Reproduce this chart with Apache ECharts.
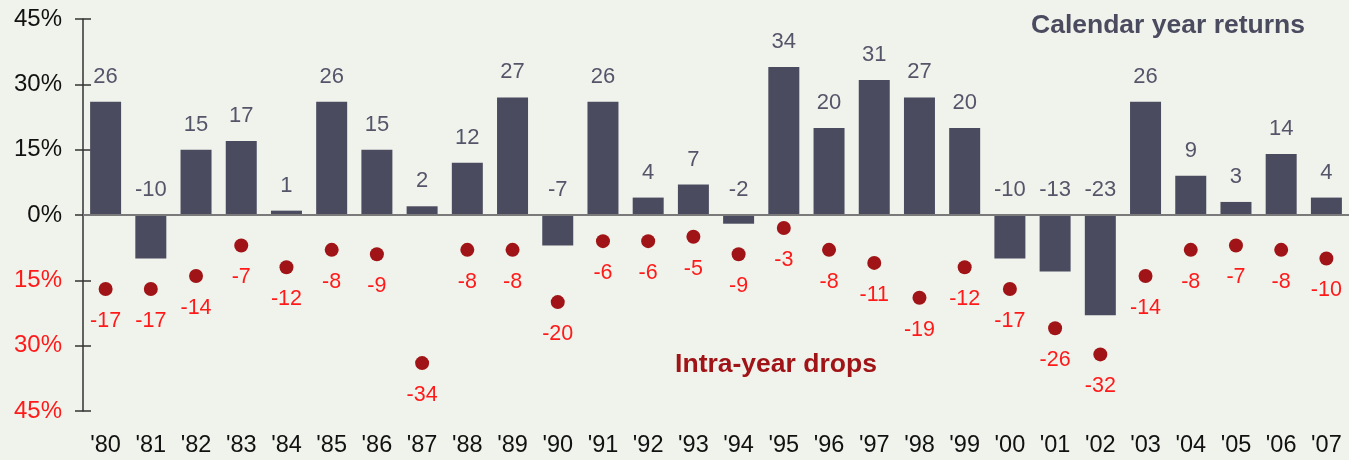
<!DOCTYPE html>
<html>
<head>
<meta charset="utf-8">
<script src="https://cdn.jsdelivr.net/npm/echarts@6/dist/echarts.min.js"></script>
<style>html,body{margin:0;padding:0;background:#f0f3ec;}#c{width:1349px;height:460px;}</style>
</head>
<body>
<div id="c"></div>
<script>
var years = ["'80","'81","'82","'83","'84","'85","'86","'87","'88","'89","'90","'91","'92","'93","'94","'95","'96","'97","'98","'99","'00","'01","'02","'03","'04","'05","'06","'07"];
var returns = [26,-10,15,17,1,26,15,2,12,27,-7,26,4,7,-2,34,20,31,27,20,-10,-13,-23,26,9,3,14,4];
var drops = [-17,-17,-14,-7,-12,-8,-9,-34,-8,-8,-20,-6,-6,-5,-9,-3,-8,-11,-19,-12,-17,-26,-32,-14,-8,-7,-8,-10];
var yTicks = [-45,-30,-15,0,15,30,45];

var font = 'Liberation Sans, Arial, sans-serif';
var chart = echarts.init(document.getElementById('c'));
chart.setOption({
  backgroundColor: '#f0f3ec',
  animation: false,
  grid: {left: 83, top: 19, width: 1274, bottom: 49, containLabel: false},
  title: [
    {text: 'Calendar year returns', left: 1163, top: 7, textAlign: 'center',
     textStyle: {fontFamily: font, fontSize: 26.5, fontWeight: 'bold', color: '#4b4b5f'}},
    {text: 'Intra-year drops', left: 771, top: 346, textAlign: 'center',
     textStyle: {fontFamily: font, fontSize: 26.5, fontWeight: 'bold', color: '#a01417'}}
  ],
  xAxis: {
    type: 'category', data: years, position: 'bottom',
    axisLine: {show: false}, axisTick: {show: false},
    axisLabel: {interval: 0, margin: 23, fontFamily: font, fontSize: 23.5, color: '#111'}
  },
  yAxis: [
    {type: 'value', position: 'left', min: yTicks[0], max: yTicks[yTicks.length-1], interval: 15,
     axisLine: {show: true, lineStyle: {color: '#333', width: 1.5}},
     axisTick: {show: true, length: 8, lineStyle: {color: '#333', width: 1.5}},
     splitLine: {show: false},
     axisLabel: {margin: 21, fontFamily: font, fontSize: 24,
       formatter: function(v){ return Math.abs(v) + '%'; },
       color: function(v){ return Number(v) < 0 ? '#ff1a1a' : '#111'; }}},
    {type: 'value', position: 'left', offset: 0, min: yTicks[0], max: yTicks[yTicks.length-1], interval: 15,
     axisLine: {show: false},
     axisTick: {show: true, inside: true, length: 8, lineStyle: {color: '#333', width: 1.5}},
     splitLine: {show: false}, axisLabel: {show: false}}
  ],
  series: [
    {type: 'bar', data: returns, barWidth: 31, itemStyle: {color: '#4b4b5f'},
     label: {show: true, position: 'top', distance: 14, fontFamily: font, fontSize: 22, color: '#55556a'},
     markLine: {silent: true, symbol: 'none', label: {show: false},
       lineStyle: {color: '#7a7a7a', width: 2, type: 'solid'}, data: [{yAxis: 0}]}},
    {type: 'scatter', data: drops, symbolSize: 14, itemStyle: {color: '#a01417', opacity: 1},
     label: {show: true, position: 'bottom', distance: 14, fontFamily: font, fontSize: 21.5, color: '#ff1a1a'}}
  ]
});
</script>
</body>
</html>
